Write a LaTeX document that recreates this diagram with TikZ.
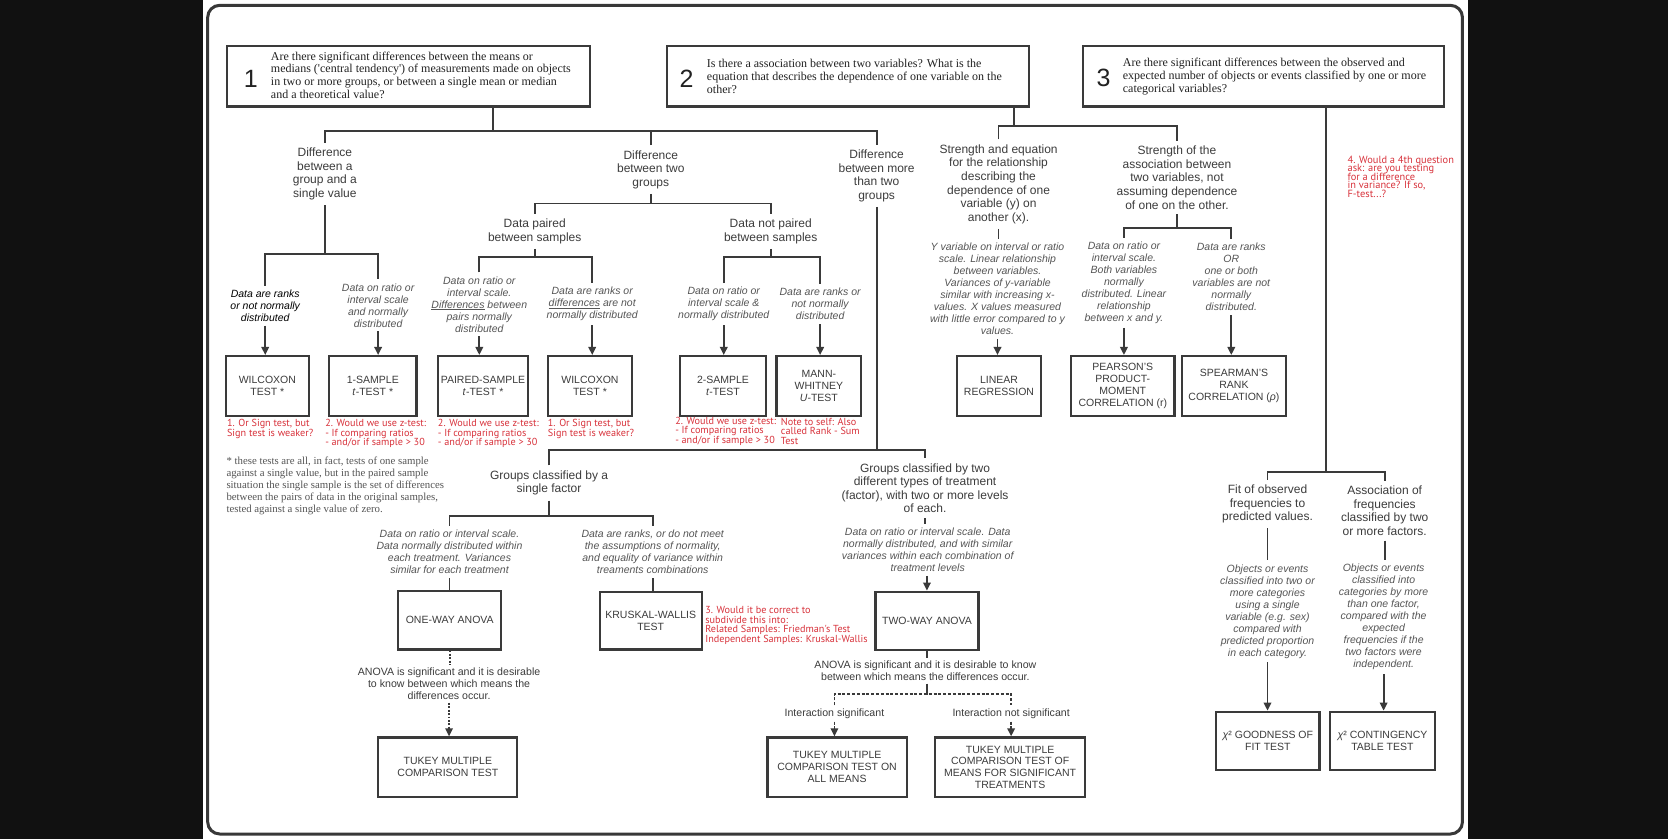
\documentclass[tikz,border=0pt]{standalone}
\usepackage{fontspec}
\setmainfont{Liberation Serif}
\setsansfont{Liberation Sans}
\newfontfamily\notefont{PT Sans}
\usepackage{tikz}
\usetikzlibrary{arrows.meta}
\lineskiplimit=-100pt
\definecolor{side}{HTML}{111111}
\definecolor{frame}{HTML}{383838}
\definecolor{wire}{HTML}{3A3A3A}
\definecolor{ink}{HTML}{3C3C3C}
\definecolor{dark}{HTML}{222222}
\definecolor{soft}{HTML}{555555}
\definecolor{redn}{HTML}{D8323B}
\tikzset{
  link/.style={line width=1.8pt, draw=wire},
  arr/.style={link, -{Triangle[length=8pt,width=7.5pt]}},
  dotlink/.style={link, dash pattern=on 1.8pt off 1.6pt},
  dotarr/.style={dotlink, -{Triangle[length=8pt,width=7.5pt]}},
  dashlink/.style={link, dash pattern=on 3pt off 1.8pt},
  dasharr/.style={dashlink, -{Triangle[length=8pt,width=7.5pt]}},
  qbox/.style n args={2}{draw=wire, line width=2.2pt, inner sep=0,
    minimum width={#1*1.0651pt}, minimum height={#2*1.0651pt}},
  tbox/.style n args={2}{qbox={#1}{#2}, align=center, text=ink,
    font=\sffamily\fontsize{10.5}{11.7}\selectfont},
  qnum/.style={text=dark, font=\sffamily\fontsize{25}{25}\selectfont, inner sep=0},
  qtxt/.style={text=dark, font=\fontsize{12}{12.8}\selectfont, align=left, anchor=west, inner sep=0},
  lab/.style={text=ink, font=\sffamily\fontsize{12}{13.6}\selectfont, align=center, inner xsep=0, inner ysep=5pt},
  cond/.style={text=soft, font=\sffamily\itshape\fontsize{10.5}{12}\selectfont, align=center, inner xsep=0, inner ysep=4pt},
  info/.style={text=ink, font=\sffamily\fontsize{10.6}{12}\selectfont, align=center, inner xsep=0, inner ysep=3pt},
  memo/.style={text=redn, font=\notefont\fontsize{10.2}{9.6}\selectfont, align=left, anchor=west, inner sep=0},
  foot/.style={text=soft, font=\fontsize{10.8}{11.9}\selectfont, align=left, anchor=west, inner sep=0}
}
\begin{document}
\begin{tikzpicture}[x=1.0651pt, y=-1.0651pt]
  \useasboundingbox (0,0) rectangle (1566,788);
  \fill[side] (0,0) rectangle (1566,788);
  \fill[white] (191,0) rectangle (1378,788);
  \draw[frame, line width=3pt, rounded corners=12pt] (195,5) rectangle (1373,783);

  % the three questions
  \node[qbox={341}{57}] (q1) at (383.5,71.5) {};
  \node[qnum] (n1) at (235.5,74) {1};
  \node[qtxt] (t1) at (254.2,70.5) {Are there significant differences between the means or\\medians (\textquotesingle central tendency\textquotesingle) of measurements made on objects\\in two or more groups, or between a single mean or median\\and a theoretical value?};
  \node[qbox={340}{57}] (q2) at (796,71.5) {};
  \node[qnum] (n2) at (644.6,73.5) {2};
  \node[qtxt] (t2) at (663.5,71.7) {Is there a association between two variables? What is the\\equation that describes the dependence of one variable on the\\other?};
  \node[qbox={339}{57}] (q3) at (1186.5,71.5) {};
  \node[qnum] (n3) at (1036,73.5) {3};
  \node[qtxt] (t3) at (1054,71.7) {Are there significant differences between the observed and\\expected number of objects or events classified by one or more\\categorical variables?};

  % branch labels
  \node[lab] (La) at (305,163.3) {Difference\\between a\\group and a\\single value};
  \node[lab] (Lb) at (611,159.2) {Difference\\between two\\groups};
  \node[lab] (Lc) at (823,165) {Difference\\between more\\than two\\groups};
  \node[lab] (Lpair) at (502,217.2) {Data paired\\between samples};
  \node[lab] (Lnpair) at (723.6,217.2) {Data not paired\\between samples};
  \node[lab] (Lstr) at (937.5,172.9) {Strength and equation\\for the relationship\\describing the\\dependence of one\\variable (y) on\\another (x).};
  \node[lab] (Lass) at (1105,166.7) {Strength of the\\association between\\two variables, not\\assuming dependence\\of one on the other.};
  \node[lab] (Lsingle) at (515.5,453.5) {Groups classified by a\\single factor};
  \node[lab] (Ltwo) at (868.5,458.3) {Groups classified by two\\different types of treatment\\(factor), with two or more levels\\of each.};
  \node[lab] (Lfit) at (1190,473.2) {Fit of observed\\frequencies to\\predicted values.};
  \node[lab] (Lassoc) at (1300,479.5) {Association of\\frequencies\\classified by two\\or more factors.};

  % conditions
  \node[cond, text=black] (c1) at (249,286.9) {Data are ranks\\or not normally\\distributed};
  \node[cond] (c2) at (355,286.6) {Data on ratio or\\interval scale\\and normally\\distributed};
  \node[cond] (c3) at (450,285.7) {Data on ratio or\\interval scale.\\\underline{Differences} between\\pairs normally\\distributed};
  \node[cond] (c4) at (556,285.6) {Data are ranks or\\\underline{differences} are not\\normally distributed};
  \node[cond] (c5) at (679.5,285.6) {Data on ratio or\\interval scale \&\\normally distributed};
  \node[cond] (c6) at (770,285.6) {Data are ranks or\\not normally\\distributed};
  \node[cond] (c7) at (936.5,271.5) {Y variable on interval or ratio\\scale. Linear relationship\\between variables.\\Variances of y-variable\\similar with increasing x-\\values. X values measured\\with little error compared to y\\values.};
  \node[cond] (c8) at (1055.2,265.4) {Data on ratio or\\interval scale.\\Both variables\\normally\\distributed. Linear\\relationship\\between x and y.};
  \node[cond] (c9) at (1156,260.2) {Data are ranks\\OR\\one or both\\variables are not\\normally\\distributed.};
  \node[cond] (c10) at (422,518.2) {Data on ratio or interval scale.\\Data normally distributed within\\each treatment. Variances\\similar for each treatment};
  \node[cond] (c11) at (612.8,518.2) {Data are ranks, or do not meet\\the assumptions of normality,\\and equality of variance within\\treaments combinations};
  \node[cond] (c12) at (871,516.1) {Data on ratio or interval scale. Data\\normally distributed, and with similar\\variances within each combination of\\treatment levels};
  \node[cond] (c13) at (1190,574) {Objects or events\\classified into two or\\more categories\\using a single\\variable (e.g. sex)\\compared with\\predicted proportion\\in each category.};
  \node[cond] (c14) at (1299,579.4) {Objects or events\\classified into\\categories by more\\than one factor,\\compared with the\\expected\\frequencies if the\\two factors were\\independent.};

  % tests
  \node[tbox={78}{56}] (w1) at (251,362.3) {WILCOXON\\TEST *};
  \node[tbox={82}{56}] (s1) at (350,362.3) {1-SAMPLE\\\textit{t}-TEST *};
  \node[tbox={85}{56}] (p1) at (453.5,362.3) {PAIRED-SAMPLE\\\textit{t}-TEST *};
  \node[tbox={78.3}{56}] (w2) at (553.9,362.3) {WILCOXON\\TEST *};
  \node[tbox={80.5}{56}] (s2) at (678.8,362.3) {2-SAMPLE\\\textit{t}-TEST};
  \node[tbox={79.5}{56}] (mw) at (768.8,362.3) {MANN-\\WHITNEY\\\textit{U}-TEST};
  \node[tbox={78.2}{56}] (lr) at (937.9,362.3) {LINEAR\\REGRESSION};
  \node[tbox={97}{56}] (pe) at (1054.1,362.3) {PEARSON'S\\PRODUCT-\\MOMENT\\CORRELATION (r)};
  \node[tbox={97}{56}] (sp) at (1158.5,362.3) {SPEARMAN'S\\RANK\\CORRELATION (\textit{ρ})};
  \node[tbox={96.5}{55}] (ow) at (422.25,582.2) {ONE-WAY ANOVA};
  \node[tbox={95.8}{54.2}] (kw) at (610.9,582.6) {KRUSKAL-WALLIS\\TEST};
  \node[tbox={96.7}{54.8}] (tw) at (870.25,582.9) {TWO-WAY ANOVA};
  \node[tbox={130.5}{55.7}] (tk1) at (420.45,720.15) {TUKEY MULTIPLE\\COMPARISON TEST};
  \node[tbox={130.8}{55.7}] (tk2) at (785.9,720.15) {TUKEY MULTIPLE\\COMPARISON TEST ON\\ALL MEANS};
  \node[tbox={140.7}{55.7}] (tk3) at (948.35,720.15) {TUKEY MULTIPLE\\COMPARISON TEST OF\\MEANS FOR SIGNIFICANT\\TREATMENTS};
  \node[tbox={97}{54.8}] (gf) at (1190.3,695.6) {\textit{χ}² GOODNESS OF\\FIT TEST};
  \node[tbox={98.2}{54.8}] (ct) at (1297.9,695.6) {\textit{χ}² CONTINGENCY\\TABLE TEST};

  % follow-up texts
  \node[info] (Aone) at (421.6,642) {ANOVA is significant and it is desirable\\to know between which means the\\differences occur.};
  \node[info] (Atwo) at (868.8,629.6) {ANOVA is significant and it is desirable to know\\between which means the differences occur.};
  \node[info] (Isig) at (783.4,669.8) {Interaction significant};
  \node[info] (Insig) at (949.3,669.8) {Interaction not significant};

  % red notes
  \node[memo] (r1) at (213,402.7) {1. Or Sign test, but\\Sign test is weaker?};
  \node[memo] (r2) at (305.2,407) {2. Would we use z-test:\\- If comparing ratios\\- and/or if sample > 30};
  \node[memo] (r3) at (411,407) {2. Would we use z-test:\\- If comparing ratios\\- and/or if sample > 30};
  \node[memo] (r4) at (514.2,402.7) {1. Or Sign test, but\\Sign test is weaker?};
  \node[memo] (r5) at (633.8,404.8) {2. Would we use z-test:\\- If comparing ratios\\- and/or if sample > 30};
  \node[memo] (r6) at (733,404.8) {Note to self: Also\\called Rank - Sum\\Test};
  \node[memo] (r7) at (662,587.3) {3. Would it be correct to\\subdivide this into:\\Related Samples: Friedman's Test\\Independent Samples: Kruskal-Wallis};
  \node[memo, font=\notefont\fontsize{10.4}{8.4}\selectfont] (r8) at (1265,165.8) {4. Would a 4th question\\ask: are you testing\\for a difference\\in variance? If so,\\F-test...?};

  \node[foot] (fn) at (212.5,456.3) {* these tests are all, in fact, tests of one sample\\against a single value, but in the paired sample\\situation the single sample is the set of differences\\between the pairs of data in the original samples,\\tested against a single value of zero.};

  % question 1 tree
  \coordinate (b1) at (463,123);
  \draw[link] (b1 |- q1.south) -- (b1);
  \draw[link] (La.north) |- (b1) -| (Lc.north);
  \draw[link] (Lb.north) -- (Lb.north |- b1);
  \coordinate (b2) at (305,238.7);
  \draw[link] (La.south) -- (b2);
  \draw[link] (c1.north) |- (b2) -| (c2.north);
  \draw[arr] (c1.south) -- (c1.south |- w1.north);
  \draw[arr] (c2.south) -- (c2.south |- s1.north);
  \coordinate (b3) at (611,191);
  \draw[link] (Lb.south) -- (b3);
  \draw[link] (Lpair.north) |- (b3) -| (Lnpair.north);
  \coordinate (b4) at (502,241);
  \draw[link] (Lpair.south) -- (b4);
  \draw[link] (c3.north) |- (b4) -| (c4.north);
  \coordinate (b5) at (723.6,241);
  \draw[link] (Lnpair.south) -- (b5);
  \draw[link] (c5.north) |- (b5) -| (c6.north);
  \draw[arr] (c3.south) -- (c3.south |- p1.north);
  \draw[arr] (c4.south) -- (c4.south |- w2.north);
  \draw[arr] (c5.south) -- (c5.south |- s2.north);
  \draw[arr] (c6.south) -- (c6.south |- mw.north);
  \coordinate (b6) at (823,422.5);
  \draw[link] (Lc.south) -- (b6);
  \draw[link] (Lsingle.north) |- (b6) -| (Ltwo.north);
  \coordinate (b7) at (515.5,484.5);
  \draw[link] (Lsingle.south) -- (b7);
  \draw[link] (c10.north) |- (b7) -| (c11.north);
  \draw[link] (c10.south) -- (c10.south |- ow.north);
  \draw[link] (c11.south) -- (c11.south |- kw.north);
  \draw[dotlink] (ow.south) -- (ow.south |- Aone.north);
  \draw[dotarr] (Aone.south) -- (Aone.south |- tk1.north);
  \draw[link] (Ltwo.south) -- (Ltwo.south |- c12.north);
  \draw[arr] (c12.south -| tw.north) -- (tw.north);
  \draw[link] (tw.south) -- (tw.south |- Atwo.north);
  \coordinate (b8) at (870,651.6);
  \draw[link] (Atwo.south -| b8) -- (b8);
  \draw[dashlink] (Isig.north) |- (b8) -| (Insig.north);
  \draw[dasharr] (Isig.south) -- (Isig.south |- tk2.north);
  \draw[dasharr] (Insig.south) -- (Insig.south |- tk3.north);

  % question 2 tree
  \coordinate (b9) at (952,118.3);
  \draw[link] (b9 |- q2.south) -- (b9);
  \draw[link] (Lstr.north) |- (b9) -| (Lass.north);
  \draw[link] (Lstr.south) -- (Lstr.south |- c7.north);
  \draw[arr] (c7.south) -- (c7.south |- lr.north);
  \coordinate (b10) at (1105,214.4);
  \draw[link] (Lass.south) -- (b10);
  \draw[link] (c8.north) |- (b10) -| (c9.north);
  \draw[arr] (c8.south) -- (c8.south |- pe.north);
  \draw[arr] (c9.south) -- (c9.south |- sp.north);

  % question 3 tree
  \coordinate (b11) at (1245,443);
  \draw[link] (b11 |- q3.south) -- (b11);
  \draw[link] (Lfit.north) |- (b11) -| (Lassoc.north);
  \draw[link] (Lfit.south) -- (Lfit.south |- c13.north);
  \draw[link] (Lassoc.south) -- (Lassoc.south |- c14.north);
  \draw[arr] (c13.south) -- (c13.south |- gf.north);
  \draw[arr] (c14.south) -- (c14.south |- ct.north);
\end{tikzpicture}
\end{document}
